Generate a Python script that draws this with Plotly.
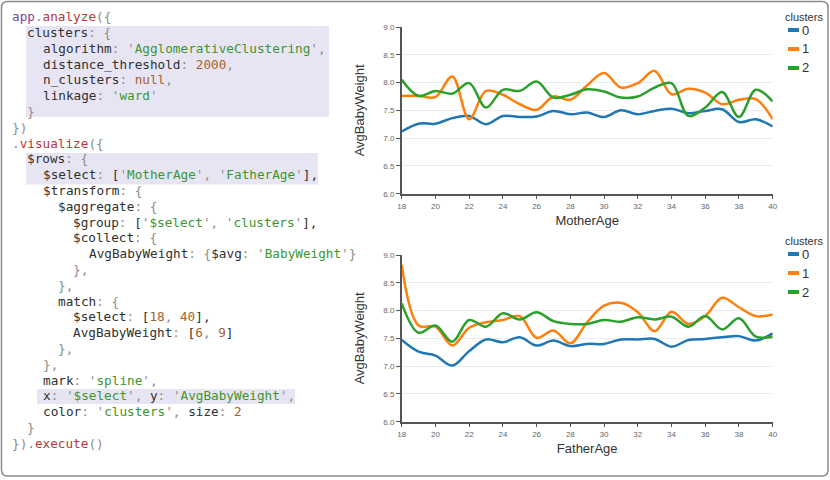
import plotly.graph_objects as go

W, H = 830, 480

ages = list(range(18, 41))
clusters = ["0", "1", "2"]
colors = ["#1f77b4", "#ff7f0e", "#2ca02c"]

# AvgBabyWeight by MotherAge, one list per cluster
mother_0 = [7.12, 7.26, 7.26, 7.36, 7.40, 7.25, 7.40, 7.38, 7.39, 7.49, 7.43, 7.46,
            7.38, 7.50, 7.43, 7.49, 7.53, 7.45, 7.49, 7.52, 7.29, 7.34, 7.21]
mother_1 = [7.76, 7.76, 7.74, 8.11, 7.34, 7.85, 7.78, 7.61, 7.51, 7.75, 7.69, 7.95,
            8.17, 7.91, 7.99, 8.21, 7.79, 7.89, 7.82, 7.61, 7.69, 7.70, 7.34]
mother_2 = [8.05, 7.76, 7.85, 7.80, 7.99, 7.55, 7.87, 7.85, 8.02, 7.73, 7.78, 7.88,
            7.84, 7.73, 7.75, 7.91, 7.99, 7.40, 7.55, 7.83, 7.38, 7.87, 7.66]

# AvgBabyWeight by FatherAge
father_0 = [7.47, 7.26, 7.19, 7.01, 7.27, 7.48, 7.43, 7.52, 7.37, 7.46, 7.36, 7.40,
            7.40, 7.48, 7.48, 7.49, 7.35, 7.47, 7.49, 7.52, 7.54, 7.46, 7.59]
father_1 = [8.82, 7.73, 7.71, 7.37, 7.69, 7.79, 7.83, 7.90, 7.51, 7.64, 7.41, 7.79,
            8.09, 8.14, 7.97, 7.63, 7.98, 7.76, 7.90, 8.23, 8.06, 7.90, 7.93]
father_2 = [8.13, 7.60, 7.73, 7.44, 7.83, 7.71, 7.95, 7.84, 7.97, 7.81, 7.76, 7.76,
            7.83, 7.80, 7.88, 7.84, 7.89, 7.71, 7.90, 7.66, 7.86, 7.53, 7.53]

x_ticks = list(range(18, 41, 2))
y_ticks = [6.0, 6.5, 7.0, 7.5, 8.0, 8.5, 9.0]

# code listing: (indent, [(text, kind), ...])
code = [
    (0, [("app", "o"), (".", "p"), ("analyze", "f"), ("({", "p")]),
    (2, [("clusters", "k"), (": {", "p")]),
    (4, [("algorithm", "k"), (": '", "p"), ("AgglomerativeClustering", "s"), ("',", "p")]),
    (4, [("distance_threshold", "k"), (": ", "p"), ("2000", "n"), (",", "p")]),
    (4, [("n_clusters", "k"), (": ", "p"), ("null", "n"), (",", "p")]),
    (4, [("linkage", "k"), (": '", "p"), ("ward", "s"), ("'", "p")]),
    (2, [("}", "p")]),
    (0, [("})", "p")]),
    (0, [(".", "p"), ("visualize", "f"), ("({", "p")]),
    (2, [("$rows", "k"), (": {", "p")]),
    (4, [("$select", "k"), (": ", "p"), ("[", "k"), ("'", "p"), ("MotherAge", "s"), ("', '", "p"),
         ("FatherAge", "s"), ("'", "p"), ("],", "k")]),
    (4, [("$transform", "k"), (": {", "p")]),
    (6, [("$aggregate", "k"), (": {", "p")]),
    (8, [("$group", "k"), (": ", "p"), ("[", "k"), ("'", "p"), ("$select", "s"), ("', '", "p"),
         ("clusters", "s"), ("'", "p"), ("],", "k")]),
    (8, [("$collect", "k"), (": {", "p")]),
    (10, [("AvgBabyWeight", "k"), (": {", "p"), ("$avg", "k"), (": '", "p"), ("BabyWeight", "s"),
          ("'}", "p")]),
    (8, [("},", "p")]),
    (6, [("},", "p")]),
    (6, [("match", "k"), (": {", "p")]),
    (8, [("$select", "k"), (": ", "p"), ("[", "k"), ("18", "n"), (", ", "p"), ("40", "n"), ("],", "k")]),
    (8, [("AvgBabyWeight", "k"), (": ", "p"), ("[", "k"), ("6", "n"), (", ", "p"), ("9", "n"), ("]", "k")]),
    (6, [("},", "p")]),
    (4, [("},", "p")]),
    (4, [("mark", "k"), (": '", "p"), ("spline", "s"), ("',", "p")]),
    (4, [("x", "k"), (": '", "p"), ("$select", "s"), ("', ", "p"), ("y", "k"), (": '", "p"),
         ("AvgBabyWeight", "s"), ("',", "p")]),
    (4, [("color", "k"), (": '", "p"), ("clusters", "s"), ("', ", "p"), ("size", "k"), (": ", "p"),
         ("2", "n")]),
    (2, [("}", "p")]),
    (0, [("})", "p"), (".", "p"), ("execute", "f"), ("()", "p")]),
]
token_colors = {"o": "#7f3f98", "f": "#b8373a", "k": "#303030", "s": "#3c962c",
                "n": "#a4622a", "p": "#8a8a8a"}


def px(x):
    return x / W


def py(y):
    return 1 - y / H


fig = go.Figure()

panels = [
    ("x", "y", "MotherAge", [mother_0, mother_1, mother_2], 27, 193.7),
    ("x2", "y2", "FatherAge", [father_0, father_1, father_2], 255, 421.7),
]
for xa, ya, name, series, top, bottom in panels:
    for c, col, vals in zip(clusters, colors, series):
        fig.add_trace(go.Scatter(
            x=ages, y=vals, xaxis=xa, yaxis=ya, name=c, mode="lines",
            line=dict(color=col, width=2.5, shape="spline", smoothing=1),
            showlegend=False,
        ))

axis_common = dict(
    showline=True, linecolor="#555", linewidth=1.5, ticks="outside", ticklen=4,
    tickcolor="#555", tickfont=dict(family="Liberation Sans", size=8, color="#666"),
    automargin=False, zeroline=False,
)
title_font = dict(family="Liberation Sans", size=13, color="#333")

layout_axes = {}
for i, (xa, ya, name, series, top, bottom) in enumerate(panels):
    sfx = "" if i == 0 else str(i + 1)
    layout_axes["xaxis" + sfx] = dict(
        axis_common, domain=[px(401.7), px(772.7)], range=[18, 40], tickvals=x_ticks,
        showgrid=False, anchor="y" + sfx,
        title=dict(text=name, font=title_font, standoff=6),
    )
    layout_axes["yaxis" + sfx] = dict(
        axis_common, domain=[py(bottom), py(top)], range=[6, 9], tickvals=y_ticks,
        tickformat=".1f", showgrid=True, gridcolor="#ececec", gridwidth=1, anchor="x" + sfx,
        title=dict(text="AvgBabyWeight", font=title_font, standoff=16),
    )

fig.update_layout(
    width=W, height=H, margin=dict(l=0, r=0, t=0, b=0),
    paper_bgcolor="white", plot_bgcolor="white", showlegend=False,
    **layout_axes,
)

# code listing
line_h = 15.8
for i, (indent, toks) in enumerate(code):
    html = "".join('<span style="color:%s">%s</span>' % (token_colors[k], t) for t, k in toks)
    fig.add_annotation(
        x=px(10 + indent * 7.65), y=py(16.7 + i * line_h), xref="paper", yref="paper",
        xanchor="left", yanchor="middle", showarrow=False, text=html, align="left",
        font=dict(family="DejaVu Sans Mono", size=12.7, color="#303030"),
    )

# highlight boxes behind the code
for x0, y0, x1, y1 in [(26, 26, 329, 117), (26, 153, 318, 184.5), (37, 389, 295, 404)]:
    fig.add_shape(type="rect", xref="paper", yref="paper", x0=px(x0), x1=px(x1),
                  y0=py(y1), y1=py(y0), fillcolor="#e7e5f4", line_width=0, layer="below")

# legends
for top in [16.5, 240.5]:
    fig.add_annotation(x=px(784), y=py(top), xref="paper", yref="paper", xanchor="left",
                       yanchor="middle", showarrow=False, text="clusters", borderpad=0,
                       font=dict(family="Liberation Sans", size=11, color="#333"))
    for j, (c, col) in enumerate(zip(clusters, colors)):
        yy = top + 13.5 + j * 19
        fig.add_shape(type="line", xref="paper", yref="paper", x0=px(788), x1=px(799),
                      y0=py(yy), y1=py(yy), line=dict(color=col, width=4))
        fig.add_annotation(x=px(800.5), y=py(yy), xref="paper", yref="paper", xanchor="left",
                           yanchor="middle", showarrow=False, text=c, borderpad=0,
                           font=dict(family="Liberation Sans", size=13, color="#333"))

# rounded outer frame
x0, y0, x1, y1, r = 1.5, 1.5, 828, 476, 6
path = (f"M {px(x0 + r)},{py(y0)} L {px(x1 - r)},{py(y0)} Q {px(x1)},{py(y0)} {px(x1)},{py(y0 + r)} "
        f"L {px(x1)},{py(y1 - r)} Q {px(x1)},{py(y1)} {px(x1 - r)},{py(y1)} "
        f"L {px(x0 + r)},{py(y1)} Q {px(x0)},{py(y1)} {px(x0)},{py(y1 - r)} "
        f"L {px(x0)},{py(y0 + r)} Q {px(x0)},{py(y0)} {px(x0 + r)},{py(y0)} Z")
fig.add_shape(type="path", xref="paper", yref="paper", path=path,
              line=dict(color="#8a8a8a", width=1.5))

# the page body has a default 8px margin; drop it so the figure fills the window
fig.write_html("out.html", config={"displayModeBar": False},
               post_script="document.body.style.margin = '0';")
